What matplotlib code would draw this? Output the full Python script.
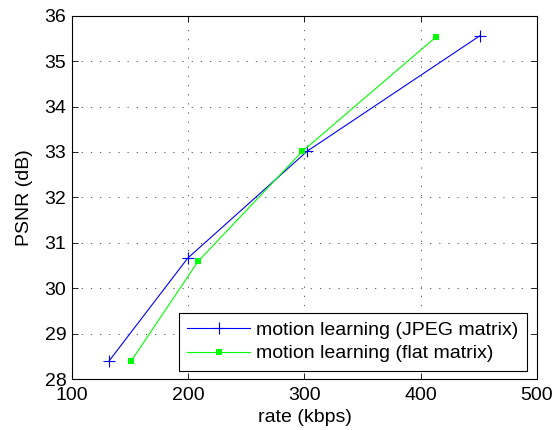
import matplotlib
matplotlib.use("Agg")
import matplotlib.pyplot as plt

plt.rcParams["font.family"] = ["Liberation Sans", "DejaVu Sans"]

rate_jpeg = [132, 199.5, 302.5, 451]
psnr_jpeg = [28.40, 30.66, 33.02, 35.56]
rate_flat = [151, 208.5, 298, 413.5]
psnr_flat = [28.40, 30.59, 33.01, 35.54]

fig = plt.figure(figsize=(5.59, 4.30), dpi=100)
ax = fig.add_axes([0.1288, 0.1186, 0.8318, 0.8449])

ax.plot(rate_jpeg, psnr_jpeg, color="#0000ff", lw=0.8, marker="+", ms=8.5,
        mew=0.8, label="motion learning (JPEG matrix)")
ax.plot(rate_flat, psnr_flat, color="#00ff00", lw=0.8, marker="s", ms=4.8,
        mew=0, label="motion learning (flat matrix)")

ax.set_xlim(100, 500)
ax.set_ylim(28, 36)
ax.set_xticks([100, 200, 300, 400, 500])
ax.set_yticks(range(28, 37))
ax.grid(True, color="#444444", linestyle=(0, (1.5, 9.5)), lw=0.6)
ax.tick_params(direction="in", top=True, right=True, labelsize=14, length=4,
               width=0.6)
ax.tick_params(axis="x", pad=6)
ax.tick_params(axis="y", pad=4)
for s in ax.spines.values():
    s.set_linewidth(0.8)

ax.set_xlabel("rate (kbps)", fontsize=14, labelpad=3)
ax.set_ylabel("PSNR (dB)", fontsize=14, labelpad=8)

leg = ax.legend(loc="lower right", bbox_to_anchor=(0.9795, 0.0215), fontsize=14,
                handlelength=3.2, fancybox=False, framealpha=1, edgecolor="black",
                borderpad=0.45, labelspacing=0.3, handletextpad=0.35,
                borderaxespad=0)
leg.get_frame().set_linewidth(0.8)

fig.savefig("out.png", dpi=100)
